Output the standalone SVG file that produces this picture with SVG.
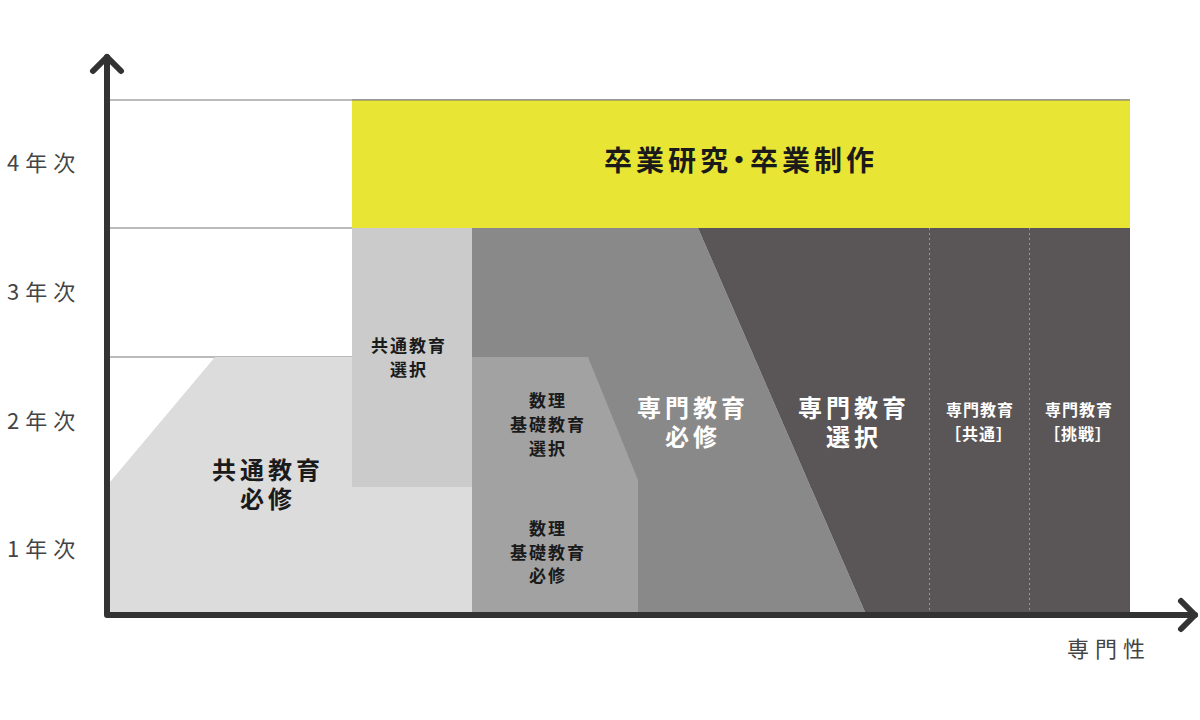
<svg xmlns="http://www.w3.org/2000/svg" width="1200" height="720" viewBox="0 0 1200 720">
<style>
text{font-family:"Noto Sans CJK JP","Noto Sans",sans-serif;text-anchor:middle}
.yr{font-size:22px;fill:#444;letter-spacing:6px;text-anchor:start;font-weight:400}
.b{font-weight:700}
.dk{fill:#1a1a1a}
.wt{fill:#ffffff}
.grid{stroke:#777;stroke-width:1;fill:none}
.axis{stroke:#333;stroke-width:6;fill:none;stroke-linecap:round;stroke-linejoin:round}
.dash{stroke:#9a9a9a;stroke-width:1;stroke-dasharray:2 3;fill:none}
</style>
<rect width="1200" height="720" fill="#ffffff"/>
<g id="grid">
<line class="grid" x1="110" y1="100" x2="1130" y2="100"/>
<line class="grid" x1="110" y1="228" x2="1130" y2="228"/>
<line class="grid" x1="110" y1="357" x2="1130" y2="357"/>
<line class="grid" x1="110" y1="487" x2="1130" y2="487"/>
</g>
<g id="kyotsu-hisshu">
<polygon points="110,482 215,357 352,357 352,487 472,487 472,612 110,612" fill="#dcdcdc"/>
<text class="b dk" x="268" y="479" font-size="24" letter-spacing="4">共通教育</text>
<text class="b dk" x="268" y="508" font-size="24" letter-spacing="4">必修</text>
</g>
<g id="kyotsu-sentaku">
<rect x="352" y="228" width="120" height="259" fill="#cbcbcb"/>
<text class="b dk" x="409" y="352" font-size="17" letter-spacing="2">共通教育</text>
<text class="b dk" x="409" y="376" font-size="17" letter-spacing="2">選択</text>
</g>
<g id="senmon-hisshu">
<polygon points="472,228 698,228 865,612 472,612" fill="#898989"/>
<text class="b wt" x="693" y="417" font-size="24" letter-spacing="4">専門教育</text>
<text class="b wt" x="693" y="446" font-size="24" letter-spacing="4">必修</text>
</g>
<g id="senmon-sentaku">
<polygon points="698,228 1130,228 1130,612 865,612" fill="#5a5657"/>
<text class="b wt" x="854" y="417" font-size="24" letter-spacing="4">専門教育</text>
<text class="b wt" x="854" y="446" font-size="24" letter-spacing="4">選択</text>
</g>
<g id="suri-sentaku">
<polygon points="472,357 588,357 638,480 638,612 472,612" fill="#a2a2a2"/>
<text class="b dk" x="548" y="407" font-size="17" letter-spacing="2">数理</text>
<text class="b dk" x="548" y="431" font-size="17" letter-spacing="2">基礎教育</text>
<text class="b dk" x="548" y="455" font-size="17" letter-spacing="2">選択</text>
</g>
<g id="suri-hisshu">
<text class="b dk" x="548" y="535" font-size="17" letter-spacing="2">数理</text>
<text class="b dk" x="548" y="559" font-size="17" letter-spacing="2">基礎教育</text>
<text class="b dk" x="548" y="582" font-size="17" letter-spacing="2">必修</text>
</g>
<g id="senmon-kyotsu">
<line class="dash" x1="929.5" y1="228" x2="929.5" y2="612"/>
<text class="b wt" x="980" y="416" font-size="16" letter-spacing="1">専門教育</text>
<text class="b wt" x="979" y="440" font-size="16" letter-spacing="1">［共通］</text>
</g>
<g id="senmon-chosen">
<line class="dash" x1="1029.5" y1="228" x2="1029.5" y2="612"/>
<text class="b wt" x="1079" y="416" font-size="16" letter-spacing="1">専門教育</text>
<text class="b wt" x="1078" y="440" font-size="16" letter-spacing="1">［挑戦］</text>
</g>
<g id="sotsugyo">
<rect x="352" y="100" width="778" height="128" fill="#e8e535"/>
<line class="grid" x1="352" y1="100" x2="1130" y2="100"/>
<text class="b" x="741" y="171" font-size="28" letter-spacing="4" fill="#1a1a1a" style="font-feature-settings:'palt'">卒業研究・卒業制作</text>
</g>
<g id="labels">
<text class="yr" x="7" y="171">4年次</text>
<text class="yr" x="7" y="300">3年次</text>
<text class="yr" x="7" y="429">2年次</text>
<text class="yr" x="7" y="557">1年次</text>
<text class="yr" x="1067" y="657" letter-spacing="5">専門性</text>
</g>
<g id="connectors">
<polyline class="axis" points="107,57 107,615 1195,615"/>
<polyline class="axis" points="93,71 107,57 121,71"/>
<polyline class="axis" points="1181,601 1195,615 1181,629"/>
</g>
</svg>
